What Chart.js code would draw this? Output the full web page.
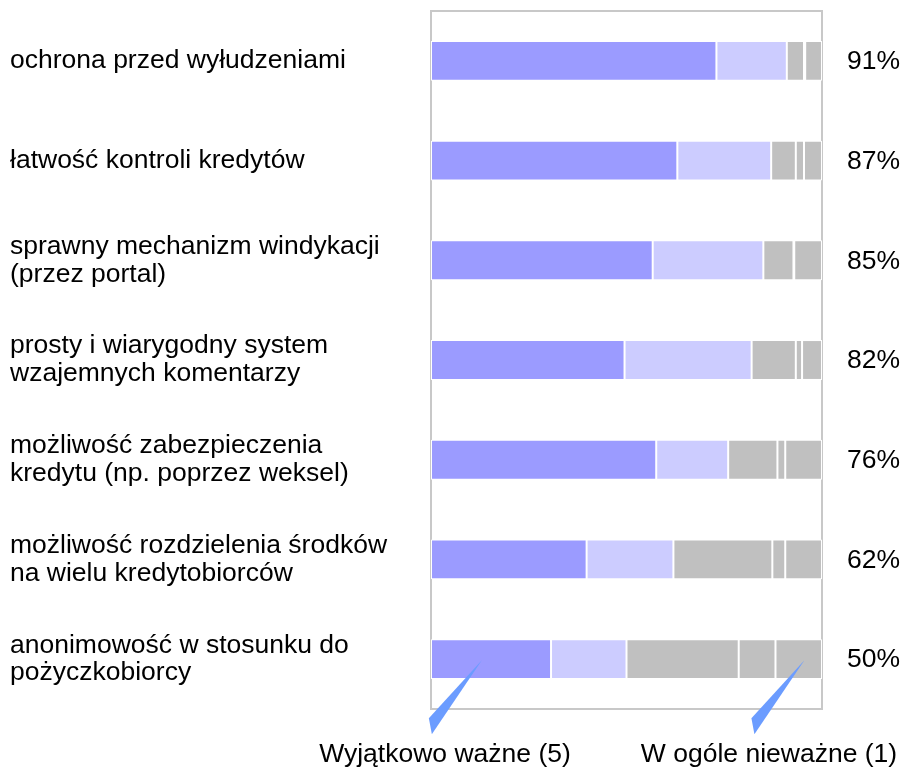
<!DOCTYPE html>
<html>
<head>
<meta charset="utf-8">
<script src="https://cdn.jsdelivr.net/npm/chart.js@4.4.1/dist/chart.umd.min.js"></script>
<style>
  html, body { margin: 0; padding: 0; background: #fff; }
  #wrap { width: 903px; height: 772px; }
</style>
</head>
<body>
<div id="wrap"><canvas id="chart" width="903" height="772"></canvas></div>
<script>
const labels = [
  'ochrona przed wyłudzeniami',
  'łatwość kontroli kredytów',
  ['sprawny mechanizm windykacji', '(przez portal)'],
  ['prosty i wiarygodny system', 'wzajemnych komentarzy'],
  ['możliwość zabezpieczenia', 'kredytu (np. poprzez weksel)'],
  ['możliwość rozdzielenia środków', 'na wielu kredytobiorców'],
  ['anonimowość w stosunku do', 'pożyczkobiorcy']
];

// share of answers per rating, 5 = most important ... 1 = not important
const rate5 = [73.0, 63.0, 56.7, 49.5, 57.6, 39.8, 30.7];
const rate4 = [18.0, 24.0, 28.3, 32.5, 18.4, 22.2, 19.3];
const rate3 = [4.4, 6.3, 7.7, 11.3, 12.6, 25.3, 28.7];
const rate2 = [0.3, 2.1, 0.2, 1.6, 2.0, 3.3, 9.4];
const rate1 = [4.3, 4.6, 7.1, 5.1, 9.4, 9.4, 11.9];

const leftNote = 'Wyjątkowo ważne (5)';
const rightNote = 'W ogóle nieważne (1)';

const FONT = 'Arial, "Liberation Sans", sans-serif';
const FONT_SIZE = 26.5;

const frame = {
  id: 'frame',
  beforeDatasetsDraw(chart) {
    const { ctx, chartArea: a } = chart;
    ctx.save();
    ctx.strokeStyle = '#c8c8c8';
    ctx.lineWidth = 2;
    ctx.strokeRect(a.left, a.top, a.right - a.left, a.bottom - a.top);
    ctx.restore();
  }
};

const extras = {
  id: 'extras',
  afterDatasetsDraw(chart) {
    const { ctx, chartArea: a, scales } = chart;
    ctx.save();
    // top-two-box share at the right of every bar
    ctx.font = FONT_SIZE + 'px ' + FONT;
    ctx.fillStyle = '#000';
    ctx.textAlign = 'left';
    ctx.textBaseline = 'middle';
    labels.forEach((_, i) => {
      const pct = Math.round(rate5[i] + rate4[i]);
      ctx.fillText(pct + '%', a.right + 25, scales.y.getPixelForValue(i) + 1);
    });

    // captions under the plot
    ctx.textAlign = 'center';
    ctx.textBaseline = 'alphabetic';
    ctx.fillText(leftNote, a.left + 14, 762);
    ctx.fillText(rightNote, a.right - 53, 762);

    // callout wedges pointing at the last bar
    const last = labels.length - 1;
    const yb = scales.y.getPixelForValue(last);
    const xs = scales.x;
    ctx.fillStyle = '#6b9cff';
    const wedge = (tipX) => {
      ctx.beginPath();
      ctx.moveTo(tipX, yb + 1);
      ctx.lineTo(tipX - 53, yb + 59);
      ctx.lineTo(tipX - 50, yb + 75);
      ctx.closePath();
      ctx.fill();
    };
    wedge(xs.getPixelForValue(13));
    wedge(xs.getPixelForValue(95.5));
    ctx.restore();
  }
};

function series(label, data, color) {
  return {
    label: label,
    data: data,
    backgroundColor: color,
    borderColor: '#ffffff',
    borderWidth: 1,
    borderSkipped: false,
    barPercentage: 0.4,
    categoryPercentage: 1.0
  };
}

new Chart(document.getElementById('chart'), {
  type: 'bar',
  data: {
    labels: labels,
    datasets: [
      series('5', rate5, '#9b9bff'),
      series('4', rate4, '#ccccff'),
      series('3', rate3, '#c0c0c0'),
      series('2', rate2, '#c0c0c0'),
      series('1', rate1, '#c0c0c0')
    ]
  },
  options: {
    indexAxis: 'y',
    responsive: false,
    animation: false,
    layout: { padding: { left: 10, top: 11, right: 81, bottom: 63 } },
    plugins: {
      legend: { display: false },
      tooltip: { enabled: false }
    },
    scales: {
      x: {
        stacked: true,
        min: 0,
        max: 100,
        display: false
      },
      y: {
        stacked: true,
        grid: { display: false, drawTicks: false },
        border: { display: false },
        afterFit(scale) {
          scale.width = 421;
          scale.paddingTop = 0;
          scale.paddingBottom = 0;
        },
        ticks: {
          crossAlign: 'far',
          color: '#000',
          padding: 0,
          font: { family: FONT, size: FONT_SIZE, lineHeight: 1.05 }
        }
      }
    }
  },
  plugins: [frame, extras]
});
</script>
</body>
</html>
